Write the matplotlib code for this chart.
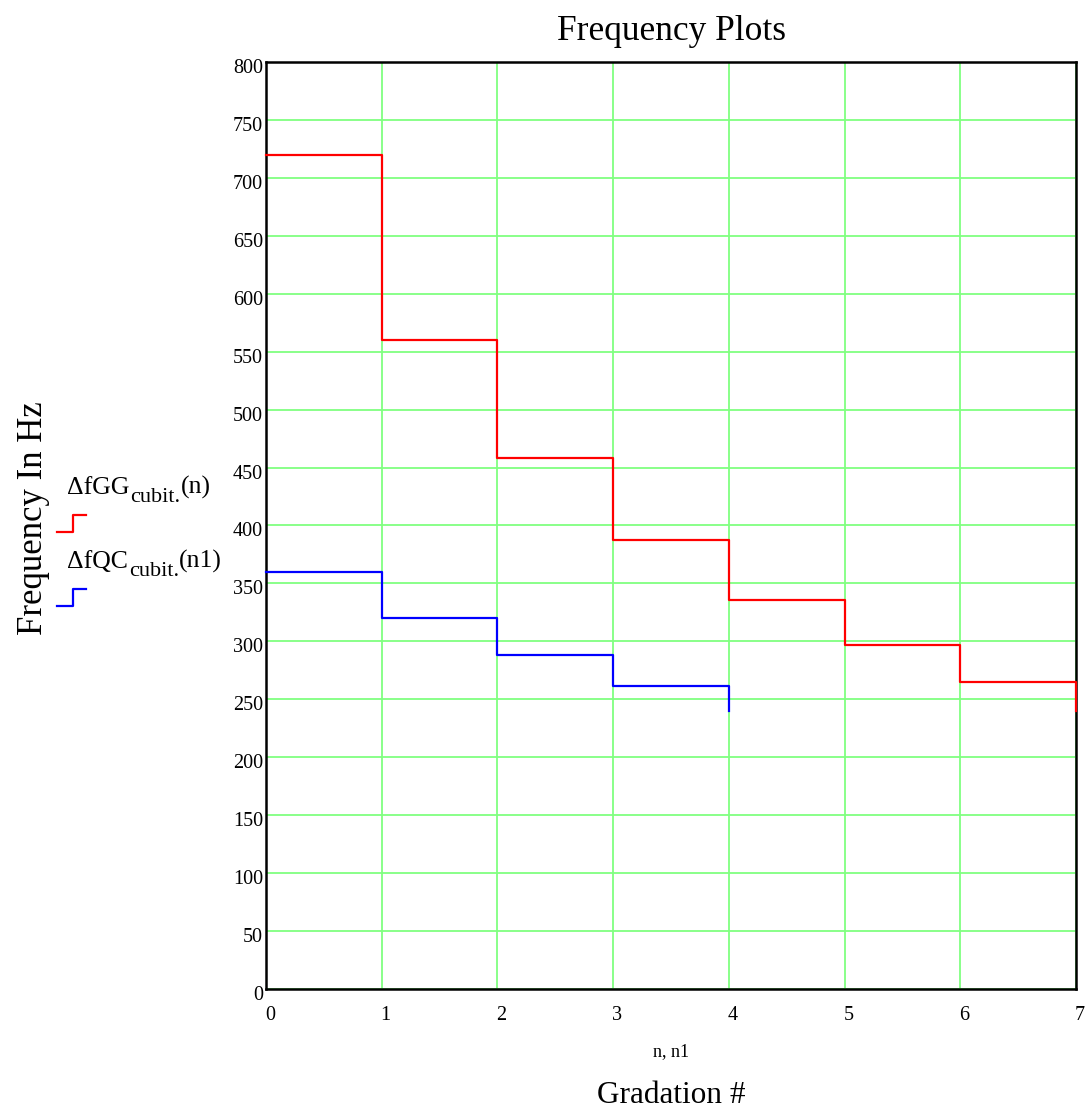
import matplotlib
matplotlib.use("Agg")
import matplotlib.pyplot as plt
from matplotlib.legend_handler import HandlerBase
from matplotlib.lines import Line2D
from matplotlib.text import Text, Annotation
import matplotlib.transforms as mtransforms

plt.rcParams["font.family"] = ["Liberation Serif", "DejaVu Serif"]

# gradation index and frequency spacing (Hz)
n = [0, 1, 2, 3, 4, 5, 6, 7]
df_gg = [720, 560, 458.2, 387.7, 336, 296.5, 265.3, 240]
n1 = [0, 1, 2, 3, 4]
df_qc = [360, 320, 288, 261.8, 240]

x_ticks = [0, 1, 2, 3, 4, 5, 6, 7]
y_ticks = list(range(0, 801, 50))

grid_green = "#80ff80"


class StepHandler(HandlerBase):
    # mathcad style legend entry: "name_sub(arg)" above a small step glyph
    def __init__(self, name, sub, arg):
        super().__init__()
        self.name, self.sub, self.arg = name, sub, arg

    def create_artists(self, legend, orig_handle, xdescent, ydescent,
                       width, height, fontsize, trans):
        x0, y0 = -xdescent, -ydescent
        xm = x0 + width * 0.55
        line = Line2D([x0, xm, xm, x0 + width], [y0, y0, y0 + height, y0 + height],
                      color=orig_handle.get_color(), lw=orig_handle.get_linewidth(),
                      transform=trans)
        t1 = Text(x0 + 7.5, y0 + height + 15, self.name, fontsize=18.5,
                  ha="left", va="baseline", transform=trans)
        t2 = Annotation(self.sub, xy=(1, 0), xycoords=t1, xytext=(0.3, -5.5),
                        textcoords="offset points", fontsize=16, ha="left", va="bottom")
        t3 = Annotation(self.arg, xy=(1, 0), xycoords=t2, xytext=(0.3, 5.5),
                        textcoords="offset points", fontsize=18.5, ha="left", va="bottom")
        return [line, t1, t2, t3]


fig = plt.figure(figsize=(10.92, 11.17), dpi=100)
ax = fig.add_axes([0.2436, 0.1146, 0.7418, 0.8299])

l_gg, = ax.step(n, df_gg, where="post", color="red", lw=1.6, clip_on=False, zorder=5,
                label="ΔfGG cubit.(n)")
l_qc, = ax.step(n1, df_qc, where="post", color="blue", lw=1.6, clip_on=False, zorder=5,
                label="ΔfQC cubit.(n1)")

ax.set_xlim(0, 7)
ax.set_ylim(0, 800)
ax.set_xticks(x_ticks)
ax.set_yticks(y_ticks)
ax.grid(True, color=grid_green, lw=1.3)
ax.set_axisbelow(True)
ax.tick_params(length=0, labelsize=14.5)
ax.tick_params(axis="x", pad=12)
ax.tick_params(axis="y", pad=2)
for sp in ax.spines.values():
    sp.set_color("black")
    sp.set_linewidth(1.8)

# small offsets like the original tick labels
dx = mtransforms.ScaledTranslation(4 / 100, 0, fig.dpi_scale_trans)
for lab in ax.get_xticklabels():
    lab.set_transform(lab.get_transform() + dx)
dy = mtransforms.ScaledTranslation(0, -4 / 100, fig.dpi_scale_trans)
for lab in ax.get_yticklabels():
    lab.set_transform(lab.get_transform() + dy)

ax.set_title("Frequency Plots", fontsize=25.5, pad=15.5)
ax.set_ylabel("Frequency In Hz", fontsize=25)
ax.yaxis.set_label_coords(-0.267, 0.508)
ax.text(0.5, -0.068, "n, n1", transform=ax.transAxes, ha="center", va="center", fontsize=13)
ax.text(0.5, -0.1145, "Gradation #", transform=ax.transAxes, ha="center", va="center",
        fontsize=22.5)

ax.legend([l_gg, l_qc], [" ", " "],
          handler_map={l_gg: StepHandler("ΔfGG", "cubit.", "(n)"),
                       l_qc: StepHandler("ΔfQC", "cubit.", "(n1)")},
          loc="upper left", bbox_to_anchor=(57 / 1092, 1 - 515 / 1117),
          bbox_transform=fig.transFigure, frameon=False, fontsize=16,
          handlelength=1.3, handleheight=0.8, labelspacing=2.38,
          borderpad=0, borderaxespad=0, handletextpad=0.2)

fig.savefig("out.png", dpi=100)
